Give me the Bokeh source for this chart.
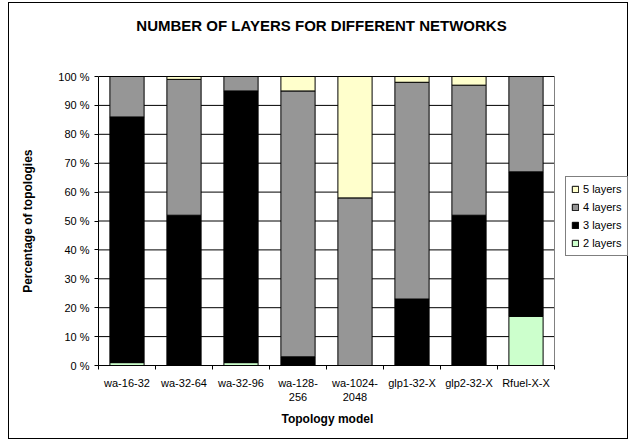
from bokeh.plotting import figure
from bokeh.models import (Range1d, FixedTicker, Legend, LegendItem, Label,
                          ColumnDataSource, Title)
from bokeh.embed import file_html
from bokeh.resources import INLINE

# Share of topologies (percent) per network model and layer count
categories = ["wa-16-32", "wa-32-64", "wa-32-96", "wa-128-256",
              "wa-1024-2048", "glp1-32-X", "glp2-32-X", "Rfuel-X-X"]
tick_labels = ["wa-16-32", "wa-32-64", "wa-32-96", "wa-128-\n256",
               "wa-1024-\n2048", "glp1-32-X", "glp2-32-X", "Rfuel-X-X"]
layers_2 = [1, 0, 1, 0, 0, 0, 0, 17]
layers_3 = [85, 52, 94, 3, 0, 23, 52, 50]
layers_4 = [14, 47, 5, 92, 58, 75, 45, 33]
layers_5 = [0, 1, 0, 5, 42, 2, 3, 0]
y_ticks = list(range(0, 101, 10))

series = ["2 layers", "3 layers", "4 layers", "5 layers"]
colors = ["#CCFFCC", "#000000", "#969696", "#FFFFCC"]

FONT = "Liberation Sans"
n = len(categories)
xpos = [i + 0.5 for i in range(n)]

# The frame also hosts the legend (right of the bars) and the title (above them):
# bars take 456 x 289 px of a 531 x 362 px frame.
BAR_W_PX, FRAME_W_PX = 456, 531
BAR_H_PX, FRAME_H_PX = 289, 362
x_end = n * FRAME_W_PX / BAR_W_PX
y_end = 100 * FRAME_H_PX / BAR_H_PX
title_y = 100 + 51.5 * 100 / BAR_H_PX

source = ColumnDataSource(data={
    "x": xpos,
    "2 layers": layers_2,
    "3 layers": layers_3,
    "4 layers": layers_4,
    "5 layers": layers_5,
})

p = figure(width=620, height=437, output_backend="svg", toolbar_location=None,
           x_range=Range1d(0, x_end), y_range=Range1d(0, y_end),
           min_border_left=89, min_border_right=0,
           min_border_top=0, min_border_bottom=75,
           background_fill_color="white", border_fill_color="white",
           outline_line_color=None)
# Chart area border
p.margin = (2, 0, 0, 8)
p.styles = {"border": "1px solid black"}

# Horizontal gridlines limited to the bar area
p.xgrid.visible = False
p.ygrid.visible = False
p.segment(x0=[0] * len(y_ticks), x1=[n] * len(y_ticks), y0=y_ticks, y1=y_ticks,
          line_color="black", line_width=1, level="underlay")

renderers = p.vbar_stack(series, x="x", width=0.6, source=source,
                         fill_color=colors, line_color="black", line_width=1)

# Right edge of the bar area
p.segment(x0=[n], x1=[n], y0=[0], y1=[100], line_color="#808080", line_width=1)

# Title
p.add_layout(Label(x=n / 2, y=title_y, x_offset=-5,
                   text="NUMBER OF LAYERS FOR DIFFERENT NETWORKS",
                   text_align="center", text_baseline="middle",
                   text_font=FONT, text_font_size="15px",
                   text_font_style="bold", text_color="black"))

# Y axis; the label is padded with no-break spaces so that it sits centred
# on the 0-100 % span instead of the taller frame
p.yaxis.bounds = (0, 100)
p.yaxis.ticker = FixedTicker(ticks=y_ticks)
p.yaxis.major_label_overrides = {t: f"{t} %" for t in y_ticks}
p.yaxis.major_tick_out = 4
p.yaxis.major_tick_in = 0
p.yaxis.axis_label = "Percentage of topologies" + "\u00a0" * 22
p.yaxis.axis_label_standoff = 20

# X axis: labels at bar centres, tick marks between categories
p.xaxis.bounds = (0, n)
p.xaxis.ticker = FixedTicker(ticks=xpos, minor_ticks=list(range(n + 1)))
p.xaxis.major_label_overrides = {x: lab for x, lab in zip(xpos, tick_labels)}
p.xaxis.major_tick_out = 0
p.xaxis.major_tick_in = 0
p.xaxis.minor_tick_out = 4
p.xaxis.minor_tick_in = 0
p.xaxis.major_label_standoff = 7

for ax in (p.xaxis[0], p.yaxis[0]):
    ax.axis_line_color = "black"
    ax.major_tick_line_color = "black"
    ax.major_label_text_font = FONT
    ax.major_label_text_font_size = "11px"
    ax.major_label_text_color = "black"
    ax.axis_label_text_font = FONT
    ax.axis_label_text_font_size = "12px"
    ax.axis_label_text_font_style = "bold"
    ax.axis_label_text_color = "black"
p.xaxis.minor_tick_line_color = "black"
p.yaxis.minor_tick_line_color = None

# X axis title, centred under the bars rather than the whole frame
p.add_layout(Title(text="Topology model", align="left", offset=183,
                   text_font=FONT, text_font_size="12px", text_font_style="bold",
                   text_color="black", standoff=8), "below")

# Legend, top entry is the highest layer count
items = [LegendItem(label=s, renderers=[r]) for s, r in zip(series, renderers)][::-1]
legend = Legend(items=items, location=(467, 109), margin=0,
                border_line_color="black", border_line_width=1,
                background_fill_color="white", background_fill_alpha=1,
                glyph_width=8, glyph_height=8, label_standoff=4,
                label_text_font=FONT, label_text_font_size="11px",
                label_text_color="black",
                label_height=14, spacing=4, padding=5)
p.add_layout(legend)

open("out.html", "w").write(file_html(p, INLINE))
